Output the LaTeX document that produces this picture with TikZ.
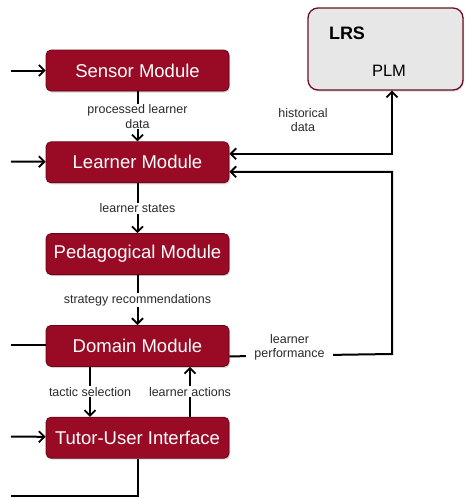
\documentclass[tikz,border=0pt]{standalone}
\usepackage{fontspec}
\setmainfont{Liberation Sans}
\usepackage{xcolor}
\usetikzlibrary{positioning,arrows.meta,calc,shadows}
\definecolor{modred}{HTML}{990A25}
\definecolor{modedge}{HTML}{6A0316}
\definecolor{lrsbg}{HTML}{E7E7E7}
\definecolor{lrsedge}{HTML}{6B1020}
\definecolor{lblgrey}{HTML}{2A2A2A}
\tikzset{
  module/.style={
    draw=modedge, fill=modred, rounded corners=5pt, text=white,
    minimum width=183pt, minimum height=41pt, line width=0.8pt,
    font=\fontsize{18.5}{20}\selectfont,
    drop shadow={opacity=0.35, shadow xshift=1pt, shadow yshift=-1.5pt},
  },
  lrsbox/.style={
    draw=lrsedge, fill=lrsbg, rounded corners=10pt, line width=1.3pt,
    minimum width=155pt, minimum height=82pt,
    drop shadow={opacity=0.3, shadow xshift=1pt, shadow yshift=-1.5pt},
  },
  barb/.tip={Straight Barb[length=5.5pt,width=11pt,line width=1.8pt]},
  flow/.style ={-barb, line width=2pt},
  plain/.style={line width=2pt},
  lbl/.style  ={font=\fontsize{12.5}{14.5}\selectfont, text=lblgrey, align=center,
                fill=white, inner xsep=2pt, inner ysep=1pt},
}

\begin{document}
\begin{tikzpicture}[x=1pt, y=-1pt, node distance=50pt]
\useasboundingbox (0,0) rectangle (464,498);

% ---------------------------------------------------------------- modules
\node[module] (sensor) at (137.5,70.5) {Sensor Module};
\node[module, below=of sensor] (learner) {Learner Module};
\node[module, below=of learner] (peda) {Pedagogical Module};
\node[module, below=of peda] (domain) {Domain Module};
\node[module, below=of domain] (tui) {Tutor-User Interface};

% ---------------------------------------------------------------- LRS
\node[lrsbox] (lrs) at (385.5,49) {};
\node[font=\fontsize{18}{20}\selectfont\bfseries] (lrstitle) at (347,33) {LRS};
\node[font=\fontsize{16.5}{18}\selectfont] (plm) at (389,71) {PLM};

% ---------------------------------------------------------------- free ends
\coordinate (sensorin) at (11,70.5);
\coordinate (learnerin) at (11,161.5);
\coordinate (domainin) at (11,345);
\coordinate (tuiin) at (11,436.5);
\coordinate (tuiout) at (11,496);
\coordinate (perfturn) at (392,354);

% ---------------------------------------------------------------- edges
\draw[flow] (sensorin) -- (sensor);
\draw[flow] (learnerin) -- (learner);
\draw[plain] (domainin) -- (domain.west |- domainin);
\draw[flow] (tuiin) -- (tui);
\draw[plain] (tui.south) |- (tuiout);

\draw[flow] (sensor) -- node[lbl] {processed learner\\data} (learner);
\draw[flow] (learner) -- node[lbl] {learner states} (peda);
\draw[flow] (peda) -- node[lbl] {strategy recommendations} (domain);
\draw[flow] ([xshift=-47.5pt]domain.south) -- node[lbl] {tactic selection}
      ([xshift=-47.5pt]tui.north);
\draw[flow] ([xshift=52.5pt]tui.north) -- node[lbl] {learner actions}
      ([xshift=52.5pt]domain.south);

% performance goes back to the learner model
\draw[flow] ([yshift=-10.5pt]domain.east) -- node[lbl, pos=0.37, yshift=8pt, inner xsep=8pt]
      {learner\\performance} (perfturn) |- ([yshift=-9.5pt]learner.east);
\draw[flow, barb-barb] ([xshift=6.5pt]lrs.south) |- ([yshift=8.5pt]learner.east);
\node[lbl, fill=none] (histlbl) at (303,120) {historical\\data};

\end{tikzpicture}
\end{document}
